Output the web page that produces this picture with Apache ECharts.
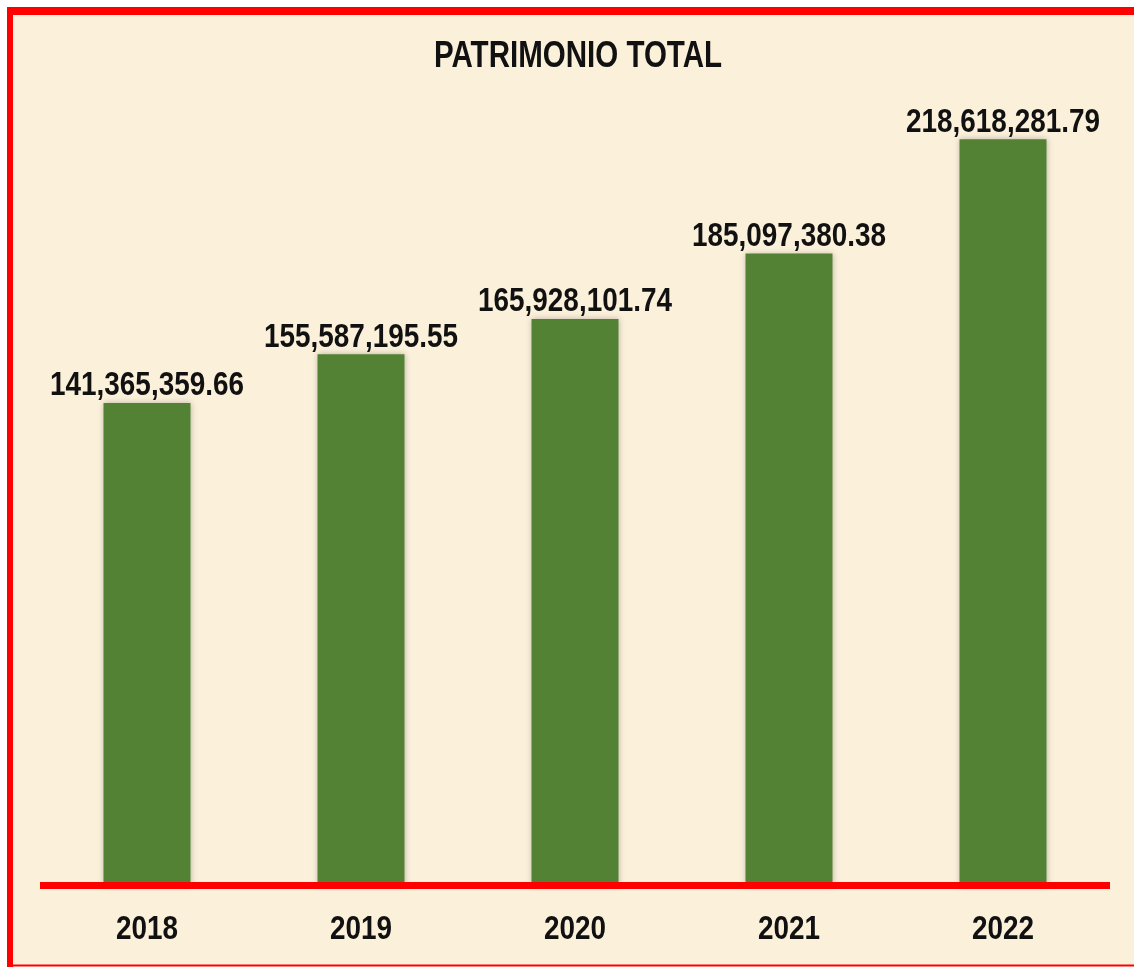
<!DOCTYPE html>
<html lang="es">
<head>
<meta charset="UTF-8">
<title>Patrimonio total</title>
<script src="https://cdn.jsdelivr.net/npm/echarts@6/dist/echarts.min.js"></script>
<style>
  html, body { margin: 0; padding: 0; background: #fff; }
  #main { width: 1134px; height: 967px; }
</style>
</head>
<body>
<div id="main"></div>
<script>
// datos
var years = ['2018', '2019', '2020', '2021', '2022'];
var patrimonio = [141365359.66, 155587195.55, 165928101.74, 185097380.38, 218618281.79];

// no hay Arial Narrow: se usa Liberation Sans negrita comprimida en X
var font = "'Liberation Sans', Arial, sans-serif";
var narrow = 0.82;

function fmt(v) {
    return v.toLocaleString('en-US', { minimumFractionDigits: 2, maximumFractionDigits: 2 });
}

var chart = echarts.init(document.getElementById('main'));

var option = {
    animation: false,
    graphic: [
        // fondo y marco rojo
        { type: 'rect', z: -10, shape: { x: 10, y: 11, width: 1130, height: 955 }, style: { fill: '#fbf0da' } },
        { type: 'line', z: 10, shape: { x1: 10, y1: 7, x2: 10, y2: 967 }, style: { stroke: '#ff0000', lineWidth: 6 } },
        { type: 'line', z: 10, shape: { x1: 7, y1: 11, x2: 1134, y2: 11 }, style: { stroke: '#ff0000', lineWidth: 8 } },
        { type: 'line', z: 10, shape: { x1: 7, y1: 965.5, x2: 1134, y2: 965.5 }, style: { stroke: '#ff0000', lineWidth: 2 } },
        {
            type: 'text', z: 10, x: 578, y: 57, scaleX: narrow,
            style: {
                text: 'PATRIMONIO TOTAL', fill: '#111',
                font: 'bold 36px ' + font, align: 'center', verticalAlign: 'middle'
            }
        }
    ],
    grid: { left: 40, right: 24, top: 32, bottom: 81.5 },
    xAxis: {
        type: 'category',
        data: years,
        z: 5,
        axisLine: { lineStyle: { color: '#ff0000', width: 7, cap: 'butt' } },
        axisTick: { show: false },
        axisLabel: { show: false }
    },
    yAxis: {
        type: 'value',
        min: 0,
        max: 250000000,
        show: false,
        splitLine: { show: false }
    },
    series: [{
        type: 'bar',
        data: patrimonio,
        barWidth: 87,
        itemStyle: {
            color: '#548235',
            shadowBlur: 6,
            shadowColor: 'rgba(0,0,0,0.25)'
        }
    }, {
        // etiquetas de valor y de año, comprimidas como Arial Narrow
        type: 'custom',
        z: 6,
        data: patrimonio.map(function (v, i) { return [i, v]; }),
        renderItem: function (params, api) {
            var top = api.coord([api.value(0), api.value(1)]);
            var base = api.coord([api.value(0), 0]);
            return {
                type: 'group',
                children: [{
                    type: 'text', x: top[0], y: top[1] - 17, scaleX: narrow,
                    style: {
                        text: fmt(api.value(1)), fill: '#111',
                        font: 'bold 34px ' + font, align: 'center', verticalAlign: 'middle'
                    }
                }, {
                    type: 'text', x: base[0], y: base[1] + 44, scaleX: narrow,
                    style: {
                        text: years[api.value(0)], fill: '#111',
                        font: 'bold 34px ' + font, align: 'center', verticalAlign: 'middle'
                    }
                }]
            };
        }
    }]
};

chart.setOption(option);
</script>
</body>
</html>
